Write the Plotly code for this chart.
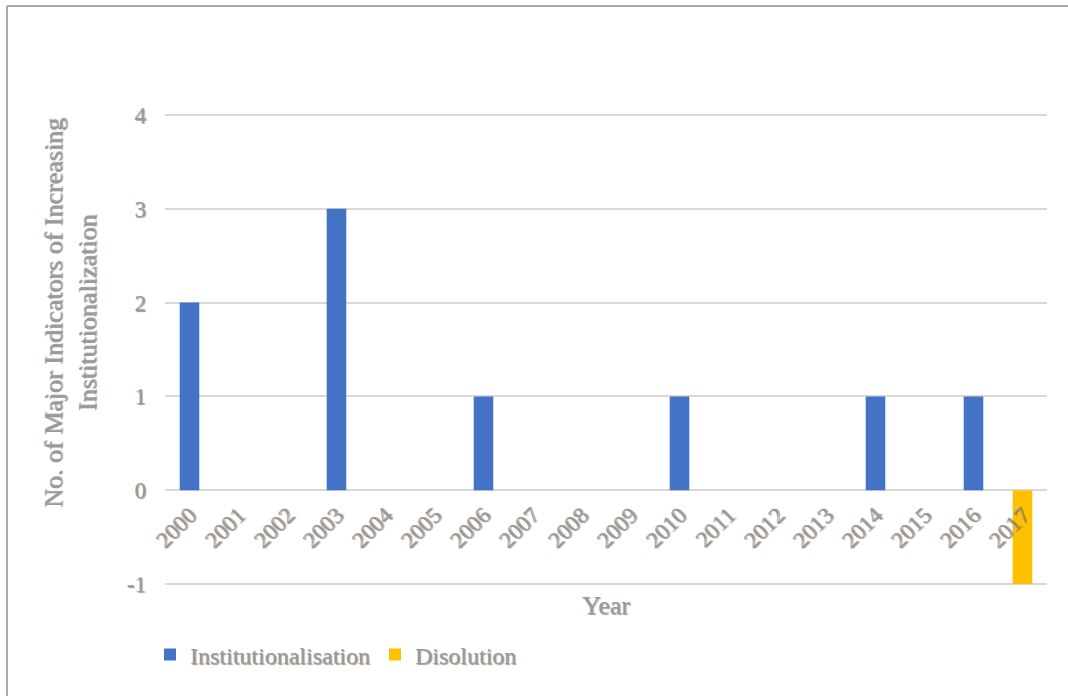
import plotly.graph_objects as go

years = [str(y) for y in range(2000, 2018)]
institutionalisation = [2, 0, 0, 3, 0, 0, 1, 0, 0, 0, 1, 0, 0, 0, 1, 0, 1, 0]
disolution = [0, 0, 0, 0, 0, 0, 0, 0, 0, 0, 0, 0, 0, 0, 0, 0, 0, -1]
y_ticks = [-1, 0, 1, 2, 3, 4]

W, H = 1068, 696
ML, MR, MT, MB = 165, 21, 113, 110
PW, PH = W - ML - MR, H - MT - MB

YMIN, YMAX = -1.02, 4.02

FONT = "Liberation Serif"
TXT = "#9a9a9a"
SHADOW = "1px 1px 1px rgba(0,0,0,0.4)"

fig = go.Figure()
fig.add_trace(go.Bar(x=years, y=institutionalisation, name="Institutionalisation",
                     marker=dict(color="#4472C4", line=dict(width=0))))
fig.add_trace(go.Bar(x=years, y=disolution, name="Disolution",
                     marker=dict(color="#FFC000", line=dict(width=0))))

def px_x(p):
    return (p - ML) / PW

def px_y(p):
    return (H - MB - p) / PH

fig.update_layout(
    width=W, height=H,
    margin=dict(l=ML, r=MR, t=MT, b=MB),
    paper_bgcolor="white", plot_bgcolor="white",
    barmode="relative", bargap=0.6,
    font=dict(family=FONT, color=TXT, size=22, shadow=SHADOW),
    xaxis=dict(
        type="category", categoryorder="array", categoryarray=years,
        anchor="free", position=(0 - YMIN) / (YMAX - YMIN),
        showgrid=False, showline=False, zeroline=False,
        tickangle=-45, ticks="", ticklabelstandoff=6,
        tickfont=dict(size=23, family=FONT, color=TXT, shadow=SHADOW),
    ),
    yaxis=dict(
        range=[YMIN, YMAX], tickvals=y_ticks, ticktext=[str(v) for v in y_ticks],
        showgrid=True, gridcolor="#d9d9d9", gridwidth=2,
        zeroline=False, showline=False, ticks="", ticklabelstandoff=18,
        tickfont=dict(size=23, family=FONT, color=TXT, shadow=SHADOW),
    ),
    legend=dict(orientation="h", x=px_x(150), xanchor="left", y=px_y(655), yanchor="middle",
                font=dict(size=24, family=FONT, color=TXT, shadow=SHADOW),
                bgcolor="rgba(0,0,0,0)"),
    showlegend=True,
)

# y axis title
fig.add_annotation(text="No. of Major Indicators of Increasing<br>Institutionalization",
                   xref="paper", yref="paper", x=px_x(70), y=px_y(313),
                   xanchor="center", yanchor="middle", textangle=-90, showarrow=False,
                   font=dict(size=26, family=FONT, color=TXT, shadow=SHADOW))

# x axis title
fig.add_annotation(text="Year", xref="paper", yref="paper", x=0.5, y=px_y(605),
                   xanchor="center", yanchor="middle", showarrow=False,
                   font=dict(size=26, family=FONT, color=TXT, shadow=SHADOW))

# chart border (top and left visible, rest cropped)
fig.add_shape(type="line", xref="paper", yref="paper",
              x0=px_x(7), x1=px_x(W + 20), y0=px_y(6), y1=px_y(6),
              line=dict(color="#a9a9a9", width=2))
fig.add_shape(type="line", xref="paper", yref="paper",
              x0=px_x(7), x1=px_x(7), y0=px_y(6), y1=px_y(H + 20),
              line=dict(color="#a9a9a9", width=2))

fig.write_html("out.html")
